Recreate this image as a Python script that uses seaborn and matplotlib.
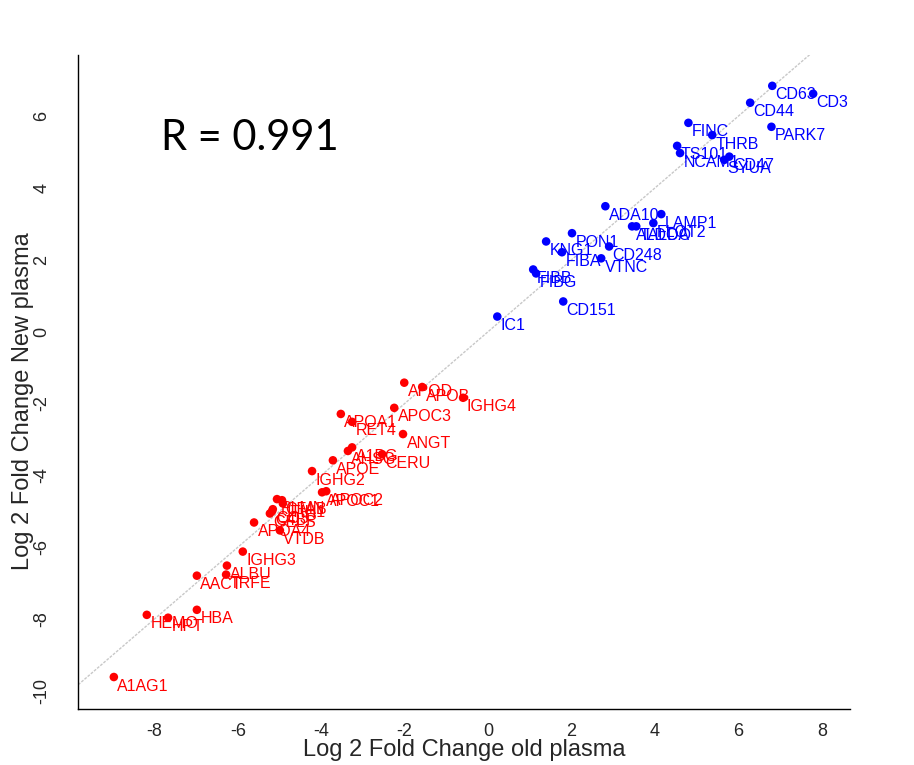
import matplotlib
matplotlib.use("Agg")
import matplotlib.pyplot as plt
import seaborn as sns
import pandas as pd
import numpy as np

# Proteins enriched in new/old plasma (blue) and depleted (red)
blue_names = ["CD63", "CD3", "CD44", "PARK7", "FINC", "THRB", "TS101", "NCAM1",
              "CD47", "SYUA", "ADA10", "LAMP1", "FLOT2", "ALDOA", "TALDO",
              "PON1", "KNG1", "FIBA", "CD248", "VTNC", "FIBB", "FIBG",
              "CD151", "IC1"]
blue_old = [6.81, 7.79, 6.28, 6.79, 4.80, 5.37, 4.53, 4.60,
            5.78, 5.66, 2.81, 4.15, 3.96, 3.45, 3.55,
            2.01, 1.39, 1.77, 2.90, 2.71, 1.08, 1.15,
            1.80, 0.22]
blue_new = [6.84, 6.62, 6.37, 5.70, 5.81, 5.47, 5.17, 4.97,
            4.87, 4.78, 3.49, 3.27, 3.02, 2.93, 2.93,
            2.74, 2.51, 2.21, 2.37, 2.04, 1.73, 1.62,
            0.84, 0.42]

red_names = ["APOD", "APOB", "IGHG4", "APOA1", "RET4", "APOC3", "ANGT",
             "AHSG", "A1BG", "CERU", "APOE", "IGHG2", "APOC1", "APOC2",
             "PLMN", "CFAB", "ITIH1", "CO3", "C4BP", "GELS", "APOA4", "VTDB",
             "IGHG3", "ALBU", "TRFE", "AACT", "HEMO", "HPT", "HBA", "A1AG1"]
red_old = [-2.01, -1.58, -0.60, -3.53, -3.26, -2.25, -2.04,
           -3.36, -3.26, -2.54, -3.72, -4.22, -3.98, -3.88,
           -5.06, -4.94, -4.92, -5.16, -5.18, -5.23, -5.61, -4.99,
           -5.88, -6.26, -6.28, -6.98, -8.18, -7.67, -6.98, -8.97]
red_new = [-1.42, -1.54, -1.84, -2.29, -2.51, -2.12, -2.85,
           -3.32, -3.22, -3.41, -3.58, -3.88, -4.47, -4.44,
           -4.66, -4.69, -4.78, -4.94, -5.00, -5.06, -5.31, -5.53,
           -6.12, -6.51, -6.76, -6.79, -7.88, -7.96, -7.74, -9.61]

x_ticks = [-8, -6, -4, -2, 0, 2, 4, 6, 8]
y_ticks = [-10, -8, -6, -4, -2, 0, 2, 4, 6]
r_value = 0.991

df = pd.DataFrame({
    "protein": blue_names + red_names,
    "old": blue_old + red_old,
    "new": blue_new + red_new,
    "group": ["up"] * len(blue_names) + ["down"] * len(red_names),
})
palette = {"up": "#0000ff", "down": "#ff0000"}

sns.set_style("white")
plt.rcParams["font.family"] = ["Liberation Sans", "DejaVu Sans"]

fig = plt.figure(figsize=(9.14, 7.65), dpi=100)
ax = fig.add_axes([0.0853, 0.0732, 0.845, 0.855])

# identity line
ax.plot([-9.9, 7.8], [-9.9, 7.8], color="#c8c8c8", lw=1.0, ls=(0, (2, 1)), zorder=1)

sns.scatterplot(data=df, x="old", y="new", hue="group", palette=palette,
                s=38, edgecolor="none", legend=False, ax=ax, zorder=3)

for _, row in df.iterrows():
    ax.annotate(row["protein"], (row["old"], row["new"]),
                xytext=(2.5, -6.5), textcoords="offset points",
                ha="left", va="center", fontsize=11.5,
                color=palette[row["group"]], zorder=4)

ax.set_xlim(-9.83, 8.68)
ax.set_ylim(-10.5, 7.7)
ax.set_xticks(x_ticks)
ax.set_yticks(y_ticks)
ax.set_xticklabels([str(t) for t in x_ticks], fontsize=13)
ax.set_yticklabels([str(t) for t in y_ticks], fontsize=13, rotation=90, va="center")
ax.tick_params(axis="x", direction="out", length=6, width=1, color="black", pad=4)
ax.tick_params(axis="y", direction="out", length=6, width=1, color="black", pad=14)

for side in ["top", "right"]:
    ax.spines[side].set_visible(False)
for side in ["left", "bottom"]:
    ax.spines[side].set_color("black")
    ax.spines[side].set_linewidth(1.0)

ax.set_xlabel("Log 2 Fold Change old plasma", fontsize=17, labelpad=-1)
ax.set_ylabel("Log 2 Fold Change New plasma", fontsize=17)
ax.yaxis.set_label_coords(-0.057, 0.47)

ax.text(-7.85, 5.4, f"R = {r_value}", fontsize=30, family="Lato",
        ha="left", va="center", color="black")

fig.savefig("out.png", dpi=100, facecolor="white")
